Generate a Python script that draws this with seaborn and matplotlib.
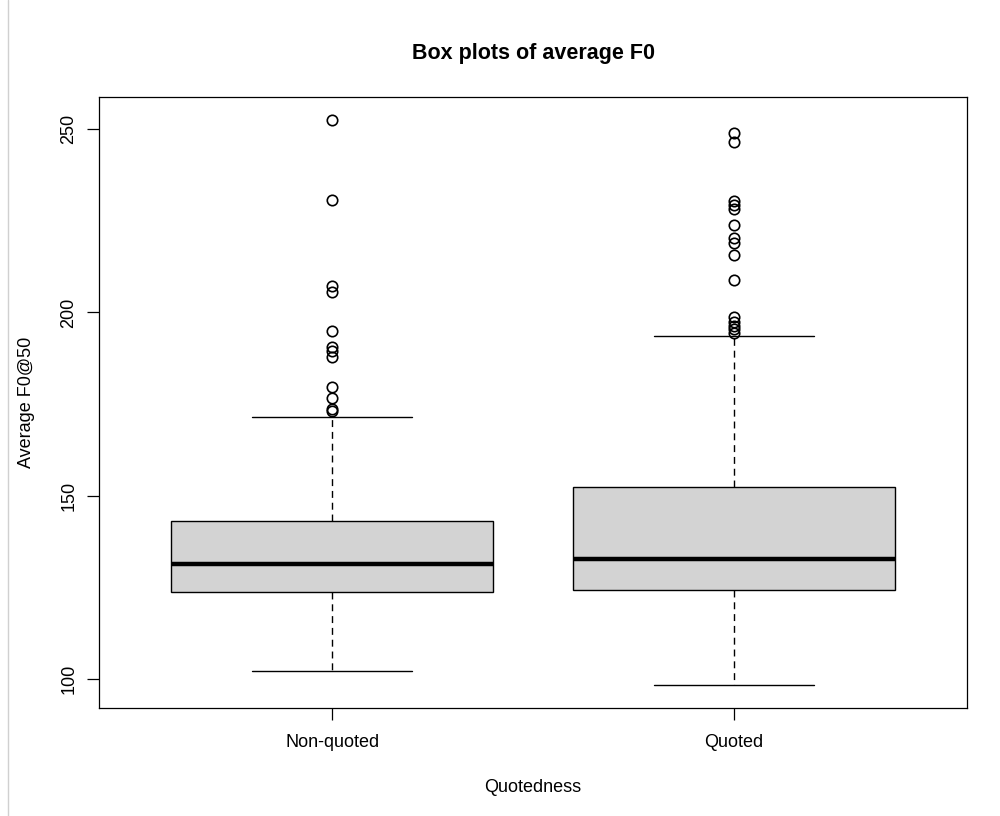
import matplotlib
matplotlib.use("Agg")
import matplotlib.pyplot as plt
from matplotlib.lines import Line2D
import seaborn as sns

# Summary statistics of average F0 (Hz) per quotedness group
groups = ["Non-quoted", "Quoted"]
q1 = [123.6, 124.1]
medians = [131.2, 132.6]
q3 = [143.0, 152.3]
whisker_low = [102.0, 98.2]
whisker_high = [171.4, 193.5]
outliers_nonquoted = [252.6, 230.8, 207.2, 205.6, 195.0, 190.6, 189.5, 187.9,
                      179.5, 176.5, 173.6, 173.1]
outliers_quoted = [249.0, 246.5, 230.4, 229.3, 228.2, 223.8, 220.2, 219.0,
                   215.8, 208.8, 198.8, 197.4, 196.3, 195.4, 194.5]
y_ticks = [100, 150, 200, 250]

sns.set_theme(style="white")
plt.rcParams["font.family"] = ["Liberation Sans", "DejaVu Sans"]

fig = plt.figure(figsize=(10, 8.16), dpi=100)
ax = fig.add_axes([0.099, 0.1324, 0.868, 0.7487])

stats = []
for i, name in enumerate(groups):
    fl = outliers_nonquoted if i == 0 else outliers_quoted
    stats.append(dict(label=name, q1=q1[i], med=medians[i], q3=q3[i],
                      whislo=whisker_low[i], whishi=whisker_high[i], fliers=fl))

ax.bxp(stats, positions=[1, 2], widths=0.8, patch_artist=True,
       boxprops=dict(facecolor="#d3d3d3", edgecolor="black", linewidth=1.0),
       medianprops=dict(color="black", linewidth=3.2, solid_capstyle="butt"),
       whiskerprops=dict(color="black", linewidth=1.0, linestyle=(0, (5, 3.5))),
       capprops=dict(color="black", linewidth=1.0),
       capwidths=0.4,
       flierprops=dict(marker="o", markerfacecolor="none", markeredgecolor="black",
                       markersize=7.5, markeredgewidth=1.2, linestyle="none"))

ax.set_xlim(0.42, 2.58)
ax.set_ylim(92.0, 258.8)
ax.set_xticks([1, 2])
ax.set_xticklabels(groups)
ax.set_yticks(y_ticks)
ax.set_yticklabels([str(v) for v in y_ticks], rotation=90, va="center")

for s in ax.spines.values():
    s.set_visible(True)
    s.set_color("black")
    s.set_linewidth(0.9)

ax.tick_params(axis="both", which="major", direction="out", length=8.6, width=0.9,
               color="black", labelsize=13, labelcolor="black",
               bottom=True, left=True)
ax.tick_params(axis="x", pad=10.5)
ax.tick_params(axis="y", pad=7)

ax.set_xlabel("Quotedness", fontsize=13, color="black")
ax.set_ylabel("Average F0@50", fontsize=13, color="black")
ax.xaxis.set_label_coords(0.5, -0.1162)
ax.yaxis.set_label_coords(-0.0737, 0.5)

fig.text(0.5335, 1 - 59 / 816, "Box plots of average F0", ha="center",
         va="baseline", fontsize=15.5, fontweight="bold", color="black")

# Page edge on the left
fig.add_artist(Line2D([0.008, 0.008], [0.0, 1.0], transform=fig.transFigure,
                      color="#d0d0d0", linewidth=1.0))

fig.savefig("out.png", dpi=100, facecolor="white")
